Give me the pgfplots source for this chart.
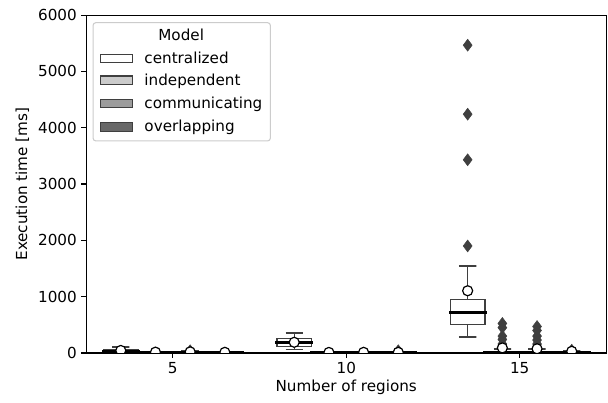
\documentclass[border=0pt]{standalone}
\usepackage{fontspec}
\setmainfont{DejaVu Sans}
\usepackage{pgfplots}
\pgfplotsset{compat=1.18}
\definecolor{fcen}{HTML}{FFFFFF}
\definecolor{find}{HTML}{CBCBCB}
\definecolor{fcom}{HTML}{9C9C9C}
\definecolor{fovl}{HTML}{686868}
\definecolor{edge}{HTML}{3F3F3F}
\definecolor{legframe}{HTML}{CCCCCC}
\newcommand{\fs}{\fontsize{11.5}{13.8}\selectfont}
\begin{document}
\begin{tikzpicture}
\path[use as bounding box] (-65.2pt,-37.4pt) rectangle (395.2pt,267.3pt);
\begin{axis}[
  at={(0,0)}, anchor=south west,
  width=394pt, height=255.9pt, scale only axis,
  xmin=-0.5, xmax=2.5, ymin=0, ymax=6000,
  xtick={0,1,2}, xticklabels={5,10,15},
  ytick={0,1000,2000,3000,4000,5000,6000},
  scaled y ticks=false,
  /pgf/number format/1000 sep={},
  /pgf/number format/assume math mode=true,
  tick align=outside, tick pos=left,
  major tick length=3.5pt,
  every tick/.style={black, line width=0.8pt},
  axis line style={line width=0.8pt},
  tick label style={font=\fs},
  label style={font=\fs},
  xlabel={Number of regions},
  ylabel={Execution time [ms]},
  xlabel style={yshift=2pt},
  unbounded coords=jump,
  clip marker paths=true,
]
% ---- boxes (Q1 to Q3) ----
% category 5
\addplot[draw=edge, fill=fcen, line width=1.1pt] coordinates {(-0.4,10) (-0.2,10) (-0.2,55) (-0.4,55)} -- cycle;
\addplot[draw=edge, fill=find, line width=1.1pt] coordinates {(-0.2,3) (0.0,3) (0.0,15) (-0.2,15)} -- cycle;
\addplot[draw=edge, fill=fcom, line width=1.1pt] coordinates {(0.0,3) (0.2,3) (0.2,15) (0.0,15)} -- cycle;
\addplot[draw=edge, fill=fovl, line width=1.1pt] coordinates {(0.2,3) (0.4,3) (0.4,12) (0.2,12)} -- cycle;
% category 10
\addplot[draw=edge, fill=fcen, line width=1.1pt] coordinates {(0.6,120) (0.8,120) (0.8,255) (0.6,255)} -- cycle;
\addplot[draw=edge, fill=find, line width=1.1pt] coordinates {(0.8,3) (1.0,3) (1.0,10) (0.8,10)} -- cycle;
\addplot[draw=edge, fill=fcom, line width=1.1pt] coordinates {(1.0,3) (1.2,3) (1.2,10) (1.0,10)} -- cycle;
\addplot[draw=edge, fill=fovl, line width=1.1pt] coordinates {(1.2,3) (1.4,3) (1.4,12) (1.2,12)} -- cycle;
% category 15
\addplot[draw=edge, fill=fcen, line width=1.1pt] coordinates {(1.6,510) (1.8,510) (1.8,945) (1.6,945)} -- cycle;
\addplot[draw=edge, fill=find, line width=1.1pt] coordinates {(1.8,5) (2.0,5) (2.0,30) (1.8,30)} -- cycle;
\addplot[draw=edge, fill=fcom, line width=1.1pt] coordinates {(2.0,5) (2.2,5) (2.2,30) (2.0,30)} -- cycle;
\addplot[draw=edge, fill=fovl, line width=1.1pt] coordinates {(2.2,3) (2.4,3) (2.4,15) (2.2,15)} -- cycle;
% ---- whiskers and caps ----
\addplot[draw=edge, line width=1.1pt, mark=none] coordinates {
 (-0.35,110) (-0.25,110) (-0.3,110) (-0.3,55) (-0.3,nan)
 (-0.35,0) (-0.25,0) (-0.3,0) (-0.3,10) (-0.3,nan)
 (-0.15,30) (-0.05,30) (-0.1,30) (-0.1,15) (-0.1,nan)
 (0.05,35) (0.15,35) (0.1,35) (0.1,15) (0.1,nan)
 (0.25,25) (0.35,25) (0.3,25) (0.3,12) (0.3,nan)
 (0.65,355) (0.75,355) (0.7,355) (0.7,255) (0.7,nan)
 (0.65,60) (0.75,60) (0.7,60) (0.7,120) (0.7,nan)
 (0.85,20) (0.95,20) (0.9,20) (0.9,10) (0.9,nan)
 (1.05,25) (1.15,25) (1.1,25) (1.1,10) (1.1,nan)
 (1.25,30) (1.35,30) (1.3,30) (1.3,12) (1.3,nan)
 (1.65,1545) (1.75,1545) (1.7,1545) (1.7,945) (1.7,nan)
 (1.65,285) (1.75,285) (1.7,285) (1.7,510) (1.7,nan)
 (1.85,70) (1.95,70) (1.9,70) (1.9,30) (1.9,nan)
 (2.05,70) (2.15,70) (2.1,70) (2.1,30) (2.1,nan)
 (2.25,35) (2.35,35) (2.3,35) (2.3,15)
};
% ---- medians ----
\addplot[draw=black, line width=2.3pt, line cap=rect, mark=none] coordinates {
 (-0.4,25) (-0.2,25) (-0.3,nan)
 (-0.2,8) (0.0,8) (-0.1,nan)
 (0.0,8) (0.2,8) (0.1,nan)
 (0.2,7) (0.4,7) (0.3,nan)
 (0.6,185) (0.8,185) (0.7,nan)
 (0.8,6) (1.0,6) (0.9,nan)
 (1.0,6) (1.2,6) (1.1,nan)
 (1.2,6) (1.4,6) (1.3,nan)
 (1.6,720) (1.8,720) (1.7,nan)
 (1.8,12) (2.0,12) (1.9,nan)
 (2.0,12) (2.2,12) (2.1,nan)
 (2.2,8) (2.4,8)
};
% ---- outliers ----
\addplot[only marks, mark=diamond*, mark size=4.5pt, mark options={fill=edge, draw=edge, line width=0.4pt}] coordinates {
 (0.1,40) (1.3,40)
 (1.7,5465) (1.7,4240) (1.7,3430) (1.7,1900)
 (1.9,525) (1.9,450) (1.9,300) (1.9,240) (1.9,160) (1.9,120)
 (2.1,470) (2.1,400) (2.1,300) (2.1,230) (2.1,160)
 (2.3,50)
};
% ---- means ----
\addplot[only marks, mark=*, mark size=3.8pt, mark options={fill=white, draw=black, line width=0.9pt}] coordinates {
 (-0.3,45) (-0.1,15) (0.1,20) (0.3,12)
 (0.7,190) (0.9,10) (1.1,12) (1.3,12)
 (1.7,1105) (1.9,90) (2.1,75) (2.3,30)
};
\end{axis}
% ---- legend ----
\draw[legframe, line width=0.8pt, fill=white, rounded corners=2pt] (5.3pt,160.6pt) rectangle (139.5pt,250.1pt);
\node[font=\fs, anchor=base] at (72pt,236.6pt) {Model};
\draw[edge, fill=fcen, line width=0.9pt] (10.6pt,219.9pt) rectangle (34.9pt,226.3pt);
\node[font=\fs, anchor=base west, inner sep=0pt] at (44pt,219.3pt) {centralized};
\draw[edge, fill=find, line width=0.9pt] (10.6pt,203.4pt) rectangle (34.9pt,209.8pt);
\node[font=\fs, anchor=base west, inner sep=0pt] at (44pt,202.8pt) {independent};
\draw[edge, fill=fcom, line width=0.9pt] (10.6pt,185.8pt) rectangle (34.9pt,192.2pt);
\node[font=\fs, anchor=base west, inner sep=0pt] at (44pt,185.2pt) {communicating};
\draw[edge, fill=fovl, line width=0.9pt] (10.6pt,168.0pt) rectangle (34.9pt,174.4pt);
\node[font=\fs, anchor=base west, inner sep=0pt] at (44pt,167.4pt) {overlapping};
\end{tikzpicture}
\end{document}
